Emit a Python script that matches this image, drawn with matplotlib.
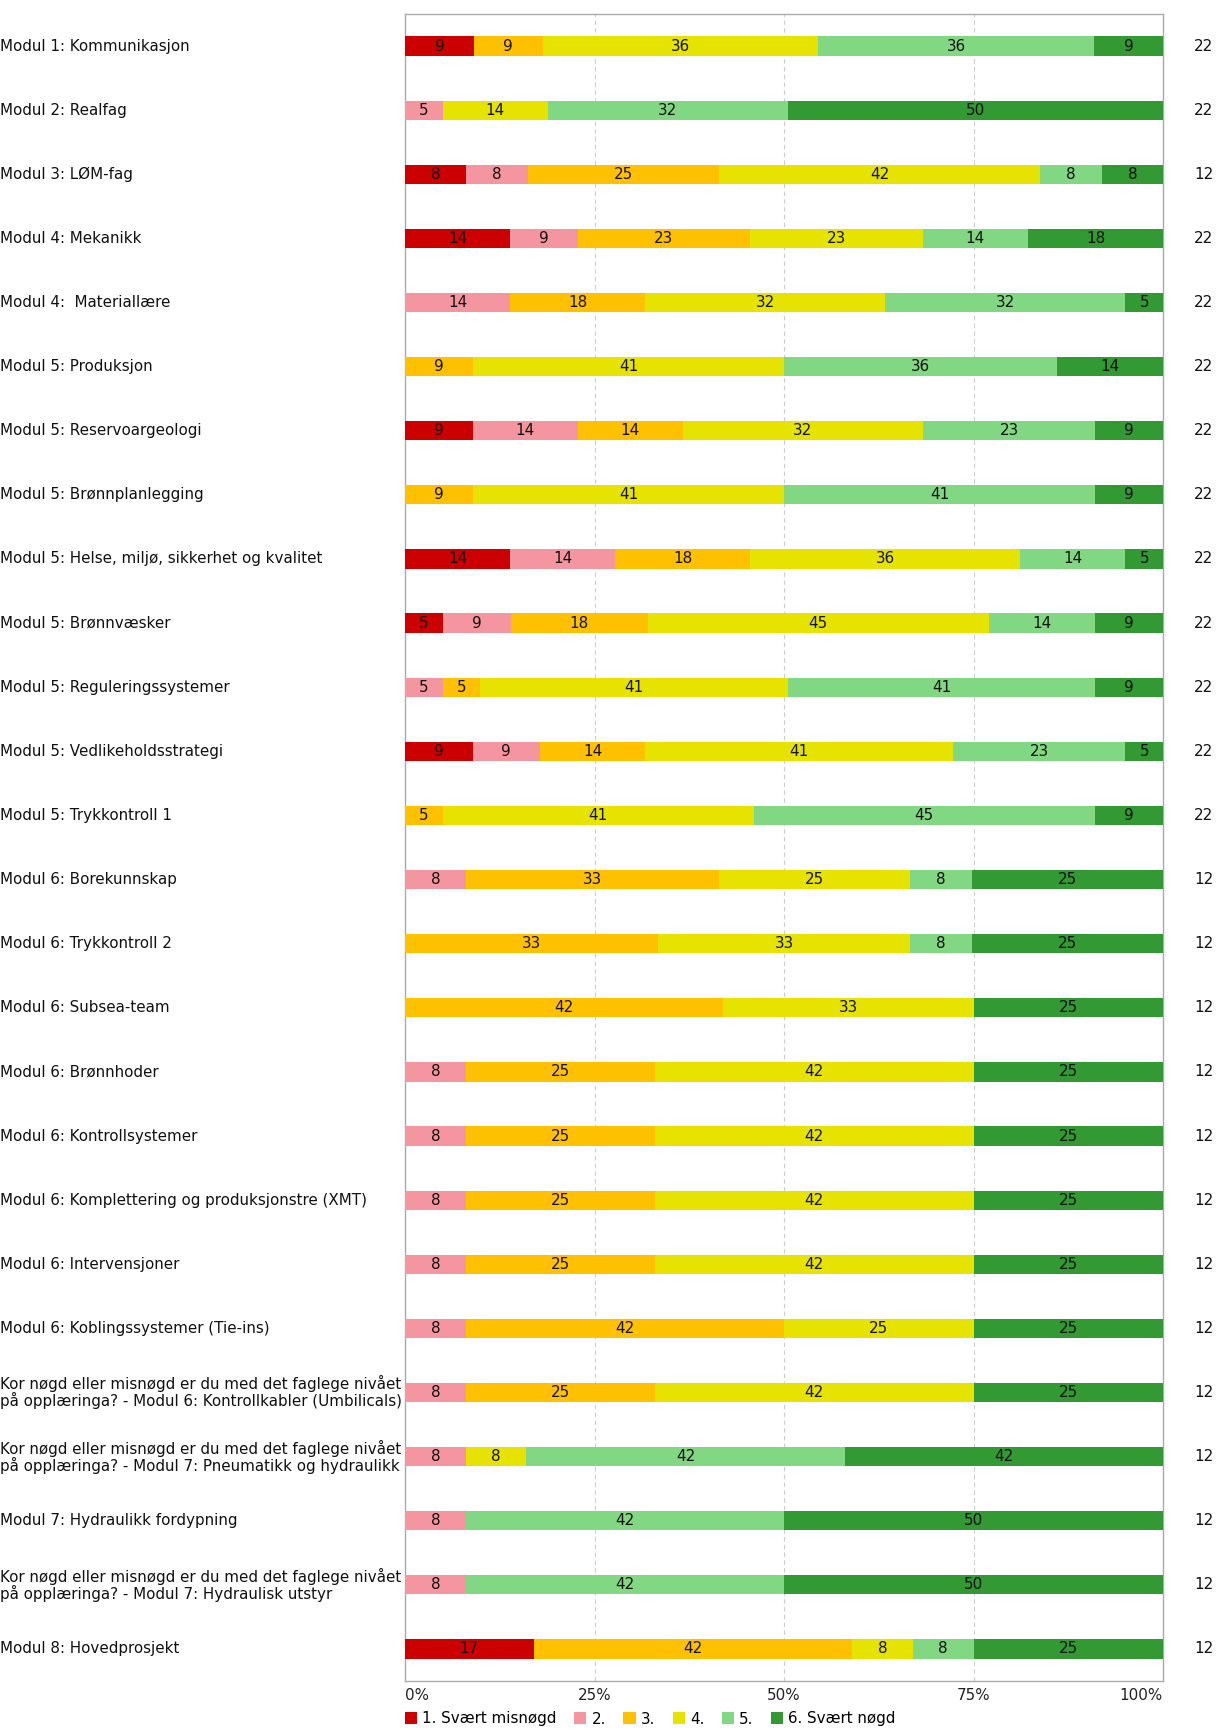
import matplotlib
matplotlib.use("Agg")
import matplotlib.pyplot as plt
from matplotlib.patches import Patch
import numpy as np

plt.rcParams['font.family'] = ['DejaVu Sans']

Q = "Kor nøgd eller misnøgd er du med det faglege nivået\npå opplæringa? - "
categories = [
    "Modul 1: Kommunikasjon",
    "Modul 2: Realfag",
    "Modul 3: LØM-fag",
    "Modul 4: Mekanikk",
    "Modul 4:  Materiallære",
    "Modul 5: Produksjon",
    "Modul 5: Reservoargeologi",
    "Modul 5: Brønnplanlegging",
    "Modul 5: Helse, miljø, sikkerhet og kvalitet",
    "Modul 5: Brønnvæsker",
    "Modul 5: Reguleringssystemer",
    "Modul 5: Vedlikeholdsstrategi",
    "Modul 5: Trykkontroll 1",
    "Modul 6: Borekunnskap",
    "Modul 6: Trykkontroll 2",
    "Modul 6: Subsea-team",
    "Modul 6: Brønnhoder",
    "Modul 6: Kontrollsystemer",
    "Modul 6: Komplettering og produksjonstre (XMT)",
    "Modul 6: Intervensjoner",
    "Modul 6: Koblingssystemer (Tie-ins)",
    Q + "Modul 6: Kontrollkabler (Umbilicals)",
    Q + "Modul 7: Pneumatikk og hydraulikk",
    "Modul 7: Hydraulikk fordypning",
    Q + "Modul 7: Hydraulisk utstyr",
    "Modul 8: Hovedprosjekt",
]

s1 = [9, 0, 8, 14, 0, 0, 9, 0, 14, 5, 0, 9, 0, 0, 0, 0, 0, 0, 0, 0, 0, 0, 0, 0, 0, 17]
s2 = [0, 5, 8, 9, 14, 0, 14, 0, 14, 9, 5, 9, 0, 8, 0, 0, 8, 8, 8, 8, 8, 8, 8, 8, 8, 0]
s3 = [9, 0, 25, 23, 18, 9, 14, 9, 18, 18, 5, 14, 5, 33, 33, 42, 25, 25, 25, 25, 42, 25, 0, 0, 0, 42]
s4 = [36, 14, 42, 23, 32, 41, 32, 41, 36, 45, 41, 41, 41, 25, 33, 33, 42, 42, 42, 42, 25, 42, 8, 0, 0, 8]
s5 = [36, 32, 8, 14, 32, 36, 23, 41, 14, 14, 41, 23, 45, 8, 8, 0, 0, 0, 0, 0, 0, 0, 42, 42, 42, 8]
s6 = [9, 50, 8, 18, 5, 14, 9, 9, 5, 9, 9, 5, 9, 25, 25, 25, 25, 25, 25, 25, 25, 25, 42, 50, 50, 25]
n_resp = [22, 22, 12, 22, 22, 22, 22, 22, 22, 22, 22, 22, 22, 12, 12, 12, 12, 12, 12, 12, 12, 12, 12, 12, 12, 12]

series_names = ["1. Svært misnøgd", "2.", "3.", "4.", "5.", "6. Svært nøgd"]
colors = ["#CC0000", "#F595A0", "#FFC000", "#E6E300", "#82D882", "#339933"]
x_ticks = [0, 25, 50, 75, 100]
x_tick_labels = ["0%", "25%", "50%", "75%", "100%"]

W, H = 1224, 1730
AX_L, AX_R, AX_T, AX_B = 405, 1163, 14, 1681
fig = plt.figure(figsize=(W / 100, H / 100), dpi=100)
ax = fig.add_axes([AX_L / W, 1 - AX_B / H, (AX_R - AX_L) / W, (AX_B - AX_T) / H])

data = np.array([s1, s2, s3, s4, s5, s6], dtype=float)
totals = data.sum(axis=0)
widths = data / totals * 100
y = np.arange(len(categories))
fs = 10.9

left = np.zeros(len(categories))
for i in range(6):
    ax.barh(y, widths[i], left=left, height=0.3, color=colors[i],
            edgecolor="none", zorder=3)
    for j in range(len(categories)):
        if data[i, j] > 0:
            ax.text(left[j] + widths[i, j] / 2, y[j], f"{int(data[i, j])}",
                    ha="center", va="center", fontsize=fs, color="#111111", zorder=4)
    left += widths[i]

ax.set_ylim(len(categories) - 0.5, -0.5)
ax.set_xlim(0, 100)
ax.set_yticks([])
ax.set_xticks(x_ticks)
ax.set_xticklabels(x_tick_labels, fontsize=fs)
labels = ax.get_xticklabels()
labels[0].set_ha("left")
labels[-1].set_ha("right")
ax.tick_params(axis="x", length=0, pad=5, colors="#222222")
ax.grid(axis="x", color="#cccccc", linestyle=(0, (4, 3)), linewidth=0.8, zorder=0)
for sp in ax.spines.values():
    sp.set_color("#aaaaaa")
    sp.set_linewidth(1.0)

span = AX_R - AX_L
for j, cat in enumerate(categories):
    ax.text(-AX_L / span, y[j], cat, transform=ax.get_yaxis_transform(),
            ha="left", va="center", fontsize=fs, linespacing=1.0, color="#111111")
    ax.text(1 + (1194 - AX_R) / span, y[j], str(n_resp[j]),
            transform=ax.get_yaxis_transform(), ha="left", va="center",
            fontsize=fs, color="#111111")

handles = [Patch(facecolor=c, edgecolor="none") for c in colors]
fig.legend(handles, series_names, loc="center left",
           bbox_to_anchor=(AX_L / W, 1 - 1719 / H), ncol=6, frameon=False,
           fontsize=fs, handlelength=0.8, handleheight=0.8, handletextpad=0.35,
           columnspacing=1.15, borderpad=0, borderaxespad=0)

fig.savefig("out.png", dpi=100)
